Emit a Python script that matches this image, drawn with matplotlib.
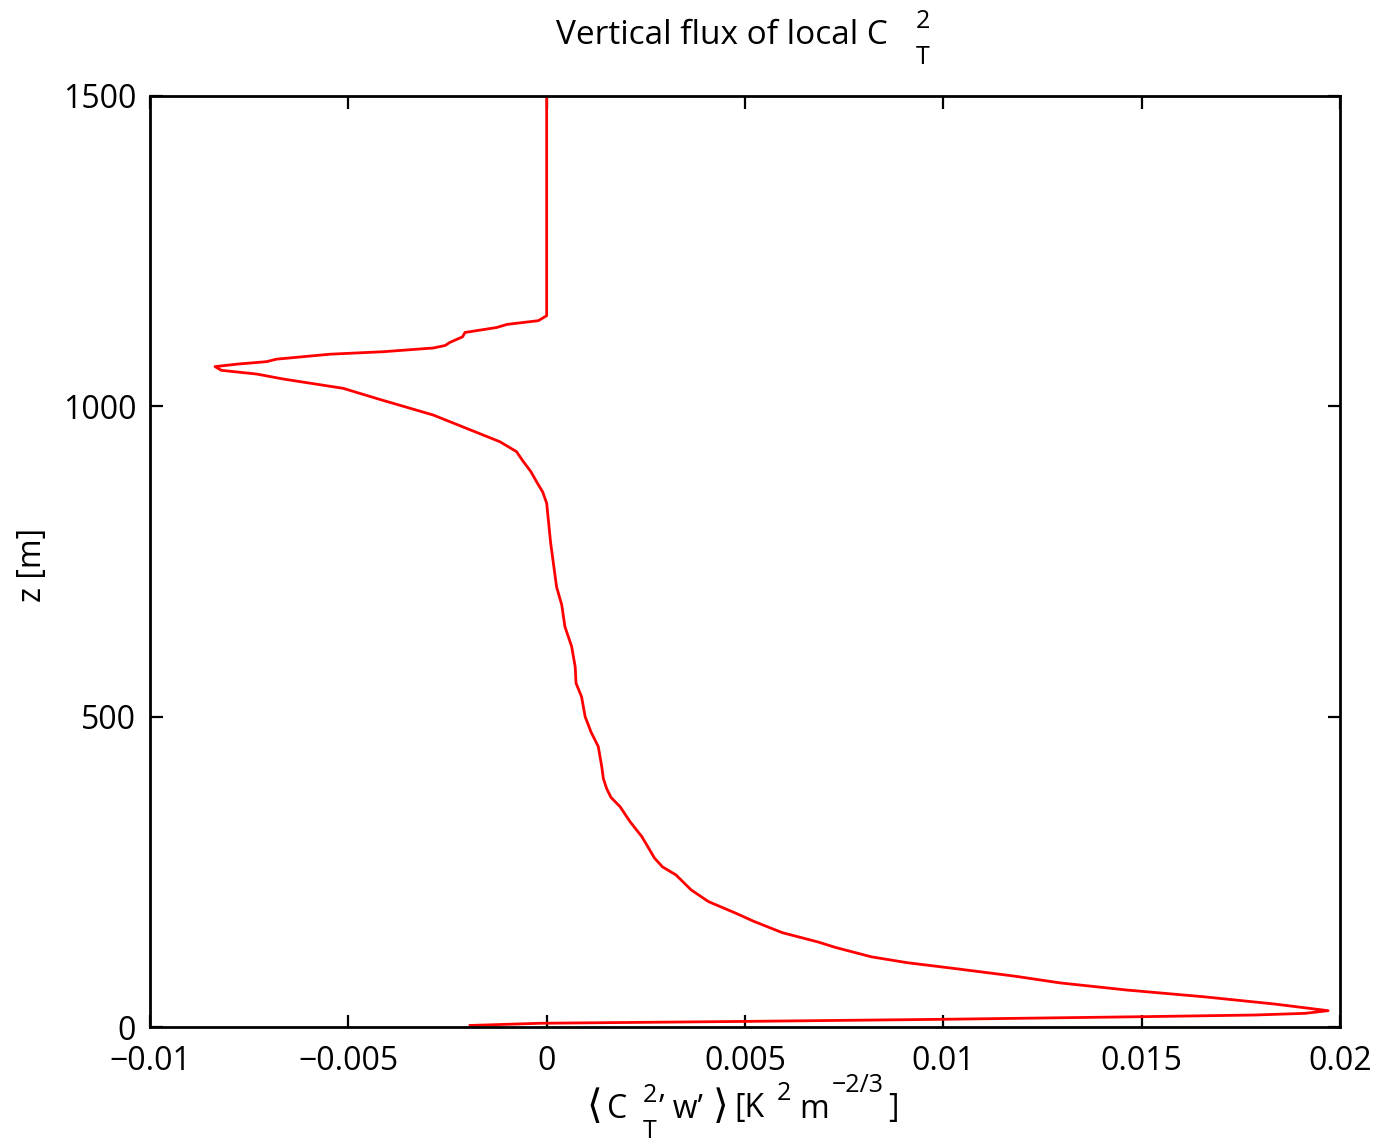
import matplotlib
matplotlib.use("Agg")
import matplotlib.pyplot as plt

# Height levels [m] and flux values
z = [2.5, 6, 9, 12.4, 16.6, 19.3, 22, 26.3, 37, 48.8, 59.6, 71, 82, 94.5,
     103.6, 113, 128, 137, 152, 170, 183, 202, 221, 245, 258, 272, 285,
     306.6, 331, 355, 370, 384.5, 400, 419, 452, 475, 500, 532, 554, 580,
     613, 645, 680, 709, 780, 844, 862, 878, 895, 912, 927, 943, 964.5,
     986, 1011, 1029, 1044, 1052, 1058, 1064, 1068, 1072, 1076, 1084, 1088,
     1094, 1098, 1103, 1112, 1119, 1127, 1132, 1138, 1146, 1300, 1500]
flux = [-0.00193, -0.00017, 0.00497, 0.00999, 0.0150, 0.01784, 0.01912,
        0.0197, 0.01835, 0.01655, 0.01462, 0.01295, 0.01179, 0.01025,
        0.00909, 0.00819, 0.00729, 0.00684, 0.00594, 0.00523, 0.00478,
        0.00408, 0.00364, 0.00326, 0.00292, 0.00272, 0.0026, 0.0024, 0.0021,
        0.00185, 0.00162, 0.00151, 0.00143, 0.00139, 0.0013, 0.00112,
        0.00097, 0.00088, 0.00074, 0.00072, 0.00063, 0.00046, 0.00038,
        0.00025, 0.0001, 0.0, -0.0001, -0.00025, -0.0004, -0.0006, -0.00076,
        -0.00118, -0.00202, -0.00286, -0.0042, -0.00513, -0.00664, -0.00731,
        -0.0082, -0.00836, -0.0078, -0.00706, -0.00681, -0.00546, -0.00412,
        -0.00286, -0.00256, -0.00244, -0.00212, -0.00206, -0.00126, -0.001,
        -0.00021, 0.0, 0.0, 0.0]

xticks = [-0.01, -0.005, 0, 0.005, 0.01, 0.015, 0.02]
xticklabels = ["\u22120.01", "\u22120.005", "0", "0.005", "0.01", "0.015", "0.02"]
yticks = [0, 500, 1000, 1500]

FAM = ['Open Sans', 'DejaVu Sans']
plt.rcParams['font.family'] = FAM

W, H = 1376, 1143
fig = plt.figure(figsize=(W / 100, H / 100), dpi=100)
ax = fig.add_axes([150 / W, 1 - 1027 / H, 1190 / W, 931 / H])

ax.plot(flux, z, color='#ff0000', lw=2.0)

ax.set_xlim(-0.01, 0.02)
ax.set_ylim(0, 1500)
ax.set_xticks(xticks)
ax.set_xticklabels(xticklabels)
ax.set_yticks(yticks)
ax.tick_params(direction='in', length=9, width=1.6, top=True, right=True,
               labelsize=23)
ax.tick_params(axis='x', pad=13)
ax.tick_params(axis='y', pad=10)
for s in ax.spines.values():
    s.set_linewidth(2)


def txt(x, y, s, size=23, ha='left', va='center', **kw):
    fig.text(x / W, 1 - y / H, s, fontsize=size, ha=ha, va=va, family=FAM, **kw)


# Title: Vertical flux of local C_T^2
txt(888, 36, "Vertical flux of local C", size=24, ha='right')
txt(923, 21, "2", size=18, ha='center')
txt(923, 57, "T", size=18, ha='center')

# x label: < C_T^2' w' > [K^2 m^-2/3]
txt(586, 1108, "\u27e8", size=29, ha='left')
txt(607, 1109, "C", ha='left')
txt(650, 1095, "2", size=18, ha='center')
txt(650, 1131, "T", size=18, ha='center')
txt(659, 1109, "\u2019 w\u2019", ha='left')
txt(713, 1108, "\u27e9", size=29, ha='left')
txt(734, 1109, "[K", ha='left')
txt(784, 1093, "2", size=18, ha='center')
txt(799, 1109, "m", ha='left')
txt(832, 1086, "\u22122/3", size=18, ha='left')
txt(888, 1109, "]", ha='left')

# y label
txt(33, 565, "z [m]", ha='center', rotation=90)

fig.savefig("out.png", dpi=100)
